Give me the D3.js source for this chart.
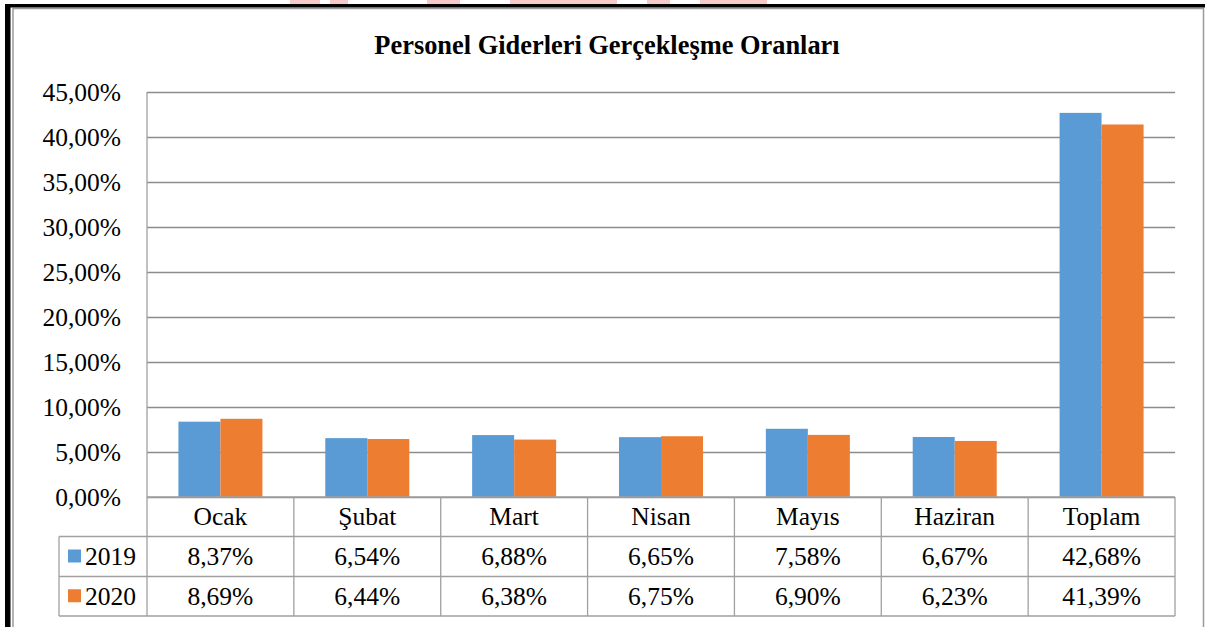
<!DOCTYPE html>
<html>
<head>
<meta charset="utf-8">
<script src="https://cdn.jsdelivr.net/npm/d3@7"></script>
<style>
  html, body { margin: 0; padding: 0; background: #fff; }
  svg { display: block; }
  text { font-family: "Liberation Serif", "Times New Roman", serif; fill: #000; }
</style>
</head>
<body>
<svg id="chart" width="1206" height="627"></svg>
<script>
const title = "Personel Giderleri Gerçekleşme Oranları";
const categories = ["Ocak", "Şubat", "Mart", "Nisan", "Mayıs", "Haziran", "Toplam"];
const seriesNames = ["2019", "2020"];
const values2019 = [8.37, 6.54, 6.88, 6.65, 7.58, 6.67, 42.68];
const values2020 = [8.69, 6.44, 6.38, 6.75, 6.90, 6.23, 41.39];
const yTicks = [0, 5, 10, 15, 20, 25, 30, 35, 40, 45];
const colors = ["#5B9BD5", "#ED7D31"];

const series = [values2019, values2020];
const fmt = v => d3.format(".2f")(v).replace(".", ",") + "%";
const FS = 25.5;

const svg = d3.select("#chart");

// background
svg.append("rect").attr("x", 0).attr("y", 0).attr("width", 1206).attr("height", 627).attr("fill", "#fff");

// faint watermark fragments visible above the page border
[[290, 30], [330, 18], [427, 33], [510, 107], [647, 23], [700, 67]].forEach(([wx, ww]) => {
  svg.append("rect").attr("x", wx).attr("y", 0).attr("width", ww).attr("height", 4.5)
    .attr("fill", "#f7c9c9");
});

// outer frame (document border + chart border)
svg.append("rect").attr("x", 13).attr("y", 8.5).attr("width", 1190.5).attr("height", 640)
  .attr("fill", "none").attr("stroke", "#9a9a9a").attr("stroke-width", 1.5);
svg.append("rect").attr("x", 5).attr("y", 4).attr("width", 1200).attr("height", 3.5).attr("fill", "#000");
svg.append("rect").attr("x", 5).attr("y", 4).attr("width", 5.5).attr("height", 640).attr("fill", "#000");

const pLeft = 147, pRight = 1175, pTop = 92, pBottom = 497;

const x = d3.scaleBand().domain(categories).range([pLeft, pRight]).paddingInner(0).paddingOuter(0);
const inner = d3.scaleBand().domain(seriesNames).range([0, x.bandwidth()]).paddingInner(0).paddingOuter(0.748);
const y = d3.scaleLinear().domain([0, 45]).range([pBottom, pTop]);

// title
svg.append("text").attr("x", 607).attr("y", 54).attr("text-anchor", "middle")
  .attr("font-size", 26.4).attr("font-weight", "bold").text(title);

// gridlines
const yAxis = d3.axisLeft(y).tickValues(yTicks).tickSize(-(pRight - pLeft)).tickFormat(d => fmt(d));
const gy = svg.append("g").attr("transform", `translate(${pLeft},0)`).call(yAxis);
gy.attr("font-family", null);
gy.select(".domain").remove();
gy.selectAll(".tick line").attr("stroke", "#8c8c8c").attr("stroke-width", 1.3);
gy.selectAll(".tick text").attr("x", -26).attr("font-size", FS).attr("dy", "0.33em")
  .style("font-family", "'Liberation Serif', serif").attr("fill", "#000");

// plot-area left border
svg.append("line").attr("x1", pLeft).attr("x2", pLeft).attr("y1", pTop).attr("y2", pBottom)
  .attr("stroke", "#a0a0a0").attr("stroke-width", 1.3);

// bars
series.forEach((vals, si) => {
  svg.append("g").selectAll("rect").data(categories).join("rect")
    .attr("x", (c) => x(c) + inner(seriesNames[si]))
    .attr("width", inner.bandwidth())
    .attr("y", (c, i) => y(vals[i]))
    .attr("height", (c, i) => y(0) - y(vals[i]))
    .attr("fill", colors[si]);
});

// data table
const rowH = [pBottom, 536.5, 576.5, 616];
const tableLeft = 59;
const lineColor = "#a0a0a0";
const tg = svg.append("g");
tg.append("line").attr("x1", pLeft).attr("x2", pRight).attr("y1", rowH[0]).attr("y2", rowH[0]).attr("stroke", lineColor).attr("stroke-width", 1.3);
[1, 2, 3].forEach(k => {
  tg.append("line").attr("x1", tableLeft).attr("x2", pRight).attr("y1", rowH[k]).attr("y2", rowH[k]).attr("stroke", lineColor).attr("stroke-width", 1.3);
});
tg.append("line").attr("x1", tableLeft).attr("x2", tableLeft).attr("y1", rowH[1]).attr("y2", rowH[3]).attr("stroke", lineColor).attr("stroke-width", 1.3);
categories.forEach(c => {
  tg.append("line").attr("x1", x(c)).attr("x2", x(c)).attr("y1", rowH[0]).attr("y2", rowH[3]).attr("stroke", lineColor).attr("stroke-width", 1.3);
});
tg.append("line").attr("x1", pRight).attr("x2", pRight).attr("y1", rowH[0]).attr("y2", rowH[3]).attr("stroke", lineColor).attr("stroke-width", 1.3);

// category labels
tg.selectAll("text.cat").data(categories).join("text").attr("class", "cat")
  .attr("x", c => x(c) + x.bandwidth() / 2).attr("y", (rowH[0] + rowH[1]) / 2)
  .attr("dy", "0.33em").attr("text-anchor", "middle").attr("font-size", FS).text(c => c);

// series rows
series.forEach((vals, si) => {
  const cy = (rowH[si + 1] + rowH[si + 2]) / 2;
  tg.append("rect").attr("x", 68).attr("y", cy - 7).attr("width", 13).attr("height", 13).attr("fill", colors[si]);
  tg.append("text").attr("x", 85).attr("y", cy).attr("dy", "0.33em").attr("font-size", FS).text(seriesNames[si]);
  tg.selectAll(null).data(categories).join("text")
    .attr("x", c => x(c) + x.bandwidth() / 2).attr("y", cy).attr("dy", "0.33em")
    .attr("text-anchor", "middle").attr("font-size", FS).text((c, i) => fmt(vals[i]));
});
</script>
</body>
</html>
